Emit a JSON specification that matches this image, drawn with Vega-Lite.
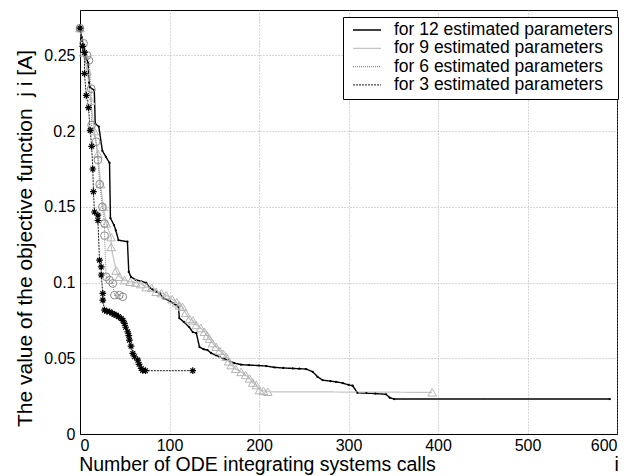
{
  "$schema": "https://vega.github.io/schema/vega-lite/v6.json",
  "width": 537,
  "height": 424,
  "autosize": {"type": "none"},
  "padding": {"left": 80, "top": 10, "right": 14, "bottom": 42},
  "background": "white",
  "config": {
    "view": {"stroke": "black", "strokeWidth": 1},
    "font": "Liberation Sans",
    "axis": {
      "labelFont": "Liberation Sans",
      "titleFont": "Liberation Sans",
      "labelFontSize": 16,
      "titleFontSize": 20,
      "labelColor": "black",
      "titleColor": "black",
      "titleFontWeight": "normal",
      "domainColor": "black",
      "ticks": false,
      "labelPadding": 5,
      "gridColor": "#9a9a9a",
      "gridDash": [1, 2],
      "gridWidth": 0.8
    },
    "legend": {
      "orient": "none",
      "legendX": 263,
      "legendY": 7,
      "fillColor": "white",
      "strokeColor": "black",
      "padding": 5,
      "symbolOffset": 4,
      "labelFont": "Liberation Sans",
      "labelFontSize": 17.5,
      "labelColor": "black",
      "labelLimit": 0,
      "labelOffset": 12,
      "symbolType": "stroke",
      "symbolSize": 784,
      "symbolStrokeWidth": 1.3,
      "clipHeight": 16,
      "rowPadding": 0.3,
      "cornerRadius": 0
    }
  },
  "data": {
    "values": [
      {"s": "for 12 estimated parameters", "i": 1, "x": 0, "y": 0.268},
      {"s": "for 12 estimated parameters", "i": 2, "x": 2, "y": 0.262},
      {"s": "for 12 estimated parameters", "i": 3, "x": 4, "y": 0.255},
      {"s": "for 12 estimated parameters", "i": 4, "x": 6, "y": 0.25},
      {"s": "for 12 estimated parameters", "i": 5, "x": 9, "y": 0.245},
      {"s": "for 12 estimated parameters", "i": 6, "x": 10, "y": 0.232},
      {"s": "for 12 estimated parameters", "i": 7, "x": 11, "y": 0.229},
      {"s": "for 12 estimated parameters", "i": 8, "x": 16, "y": 0.227},
      {"s": "for 12 estimated parameters", "i": 9, "x": 17, "y": 0.205},
      {"s": "for 12 estimated parameters", "i": 10, "x": 21, "y": 0.203},
      {"s": "for 12 estimated parameters", "i": 11, "x": 25, "y": 0.187},
      {"s": "for 12 estimated parameters", "i": 12, "x": 29, "y": 0.183},
      {"s": "for 12 estimated parameters", "i": 13, "x": 33, "y": 0.179},
      {"s": "for 12 estimated parameters", "i": 14, "x": 34, "y": 0.1425},
      {"s": "for 12 estimated parameters", "i": 15, "x": 38, "y": 0.138},
      {"s": "for 12 estimated parameters", "i": 16, "x": 40, "y": 0.1345},
      {"s": "for 12 estimated parameters", "i": 17, "x": 43, "y": 0.128},
      {"s": "for 12 estimated parameters", "i": 18, "x": 53, "y": 0.127},
      {"s": "for 12 estimated parameters", "i": 19, "x": 54.5, "y": 0.107},
      {"s": "for 12 estimated parameters", "i": 20, "x": 57, "y": 0.1037},
      {"s": "for 12 estimated parameters", "i": 21, "x": 63, "y": 0.1016},
      {"s": "for 12 estimated parameters", "i": 22, "x": 68, "y": 0.101},
      {"s": "for 12 estimated parameters", "i": 23, "x": 74, "y": 0.0998},
      {"s": "for 12 estimated parameters", "i": 24, "x": 78, "y": 0.0965},
      {"s": "for 12 estimated parameters", "i": 25, "x": 81, "y": 0.0955},
      {"s": "for 12 estimated parameters", "i": 26, "x": 85, "y": 0.094},
      {"s": "for 12 estimated parameters", "i": 27, "x": 89, "y": 0.093},
      {"s": "for 12 estimated parameters", "i": 28, "x": 93, "y": 0.0897},
      {"s": "for 12 estimated parameters", "i": 29, "x": 100, "y": 0.088},
      {"s": "for 12 estimated parameters", "i": 30, "x": 104, "y": 0.0864},
      {"s": "for 12 estimated parameters", "i": 31, "x": 107.5, "y": 0.085},
      {"s": "for 12 estimated parameters", "i": 32, "x": 110, "y": 0.084},
      {"s": "for 12 estimated parameters", "i": 33, "x": 111, "y": 0.0765},
      {"s": "for 12 estimated parameters", "i": 34, "x": 116, "y": 0.074},
      {"s": "for 12 estimated parameters", "i": 35, "x": 122, "y": 0.0706},
      {"s": "for 12 estimated parameters", "i": 36, "x": 126, "y": 0.0673},
      {"s": "for 12 estimated parameters", "i": 37, "x": 130, "y": 0.0666},
      {"s": "for 12 estimated parameters", "i": 38, "x": 133.5, "y": 0.0574},
      {"s": "for 12 estimated parameters", "i": 39, "x": 138, "y": 0.056},
      {"s": "for 12 estimated parameters", "i": 40, "x": 142.5, "y": 0.0554},
      {"s": "for 12 estimated parameters", "i": 41, "x": 146.6, "y": 0.0534},
      {"s": "for 12 estimated parameters", "i": 42, "x": 152, "y": 0.052},
      {"s": "for 12 estimated parameters", "i": 43, "x": 156, "y": 0.0508},
      {"s": "for 12 estimated parameters", "i": 44, "x": 160, "y": 0.05},
      {"s": "for 12 estimated parameters", "i": 45, "x": 165, "y": 0.0488},
      {"s": "for 12 estimated parameters", "i": 46, "x": 172.6, "y": 0.0468},
      {"s": "for 12 estimated parameters", "i": 47, "x": 180, "y": 0.0458},
      {"s": "for 12 estimated parameters", "i": 48, "x": 189, "y": 0.0455},
      {"s": "for 12 estimated parameters", "i": 49, "x": 200, "y": 0.0452},
      {"s": "for 12 estimated parameters", "i": 50, "x": 208, "y": 0.0449},
      {"s": "for 12 estimated parameters", "i": 51, "x": 217, "y": 0.044},
      {"s": "for 12 estimated parameters", "i": 52, "x": 227, "y": 0.0436},
      {"s": "for 12 estimated parameters", "i": 53, "x": 237.5, "y": 0.0433},
      {"s": "for 12 estimated parameters", "i": 54, "x": 245, "y": 0.0431},
      {"s": "for 12 estimated parameters", "i": 55, "x": 252.7, "y": 0.0429},
      {"s": "for 12 estimated parameters", "i": 56, "x": 260, "y": 0.0411},
      {"s": "for 12 estimated parameters", "i": 57, "x": 265.4, "y": 0.0378},
      {"s": "for 12 estimated parameters", "i": 58, "x": 271, "y": 0.0356},
      {"s": "for 12 estimated parameters", "i": 59, "x": 280, "y": 0.0349},
      {"s": "for 12 estimated parameters", "i": 60, "x": 286, "y": 0.0345},
      {"s": "for 12 estimated parameters", "i": 61, "x": 293.6, "y": 0.0336},
      {"s": "for 12 estimated parameters", "i": 62, "x": 300, "y": 0.0325},
      {"s": "for 12 estimated parameters", "i": 63, "x": 304.6, "y": 0.0319},
      {"s": "for 12 estimated parameters", "i": 64, "x": 310, "y": 0.0272},
      {"s": "for 12 estimated parameters", "i": 65, "x": 320, "y": 0.027},
      {"s": "for 12 estimated parameters", "i": 66, "x": 330, "y": 0.0267},
      {"s": "for 12 estimated parameters", "i": 67, "x": 342, "y": 0.0262},
      {"s": "for 12 estimated parameters", "i": 68, "x": 346, "y": 0.024},
      {"s": "for 12 estimated parameters", "i": 69, "x": 351, "y": 0.0231},
      {"s": "for 12 estimated parameters", "i": 70, "x": 592, "y": 0.0231},

      {"s": "for 9 estimated parameters", "i": 1, "x": 0, "y": 0.268},
      {"s": "for 9 estimated parameters", "i": 2, "x": 4, "y": 0.252},
      {"s": "for 9 estimated parameters", "i": 3, "x": 8, "y": 0.24},
      {"s": "for 9 estimated parameters", "i": 4, "x": 12, "y": 0.22},
      {"s": "for 9 estimated parameters", "i": 5, "x": 16, "y": 0.2},
      {"s": "for 9 estimated parameters", "i": 6, "x": 20, "y": 0.185},
      {"s": "for 9 estimated parameters", "i": 7, "x": 23, "y": 0.165},
      {"s": "for 9 estimated parameters", "i": 8, "x": 26, "y": 0.15},
      {"s": "for 9 estimated parameters", "i": 9, "x": 29.3, "y": 0.139},
      {"s": "for 9 estimated parameters", "i": 10, "x": 34.8, "y": 0.13},
      {"s": "for 9 estimated parameters", "i": 11, "x": 34.8, "y": 0.1235},
      {"s": "for 9 estimated parameters", "i": 12, "x": 40.4, "y": 0.108},
      {"s": "for 9 estimated parameters", "i": 13, "x": 44, "y": 0.1038},
      {"s": "for 9 estimated parameters", "i": 14, "x": 49.7, "y": 0.1016},
      {"s": "for 9 estimated parameters", "i": 15, "x": 56, "y": 0.1005},
      {"s": "for 9 estimated parameters", "i": 16, "x": 62, "y": 0.1},
      {"s": "for 9 estimated parameters", "i": 17, "x": 68, "y": 0.099},
      {"s": "for 9 estimated parameters", "i": 18, "x": 74, "y": 0.097},
      {"s": "for 9 estimated parameters", "i": 19, "x": 80, "y": 0.0965},
      {"s": "for 9 estimated parameters", "i": 20, "x": 85, "y": 0.0939},
      {"s": "for 9 estimated parameters", "i": 21, "x": 91, "y": 0.093},
      {"s": "for 9 estimated parameters", "i": 22, "x": 96.3, "y": 0.0917},
      {"s": "for 9 estimated parameters", "i": 23, "x": 103, "y": 0.089},
      {"s": "for 9 estimated parameters", "i": 24, "x": 108, "y": 0.087},
      {"s": "for 9 estimated parameters", "i": 25, "x": 111, "y": 0.085},
      {"s": "for 9 estimated parameters", "i": 26, "x": 114.5, "y": 0.084},
      {"s": "for 9 estimated parameters", "i": 27, "x": 118, "y": 0.08},
      {"s": "for 9 estimated parameters", "i": 28, "x": 122.3, "y": 0.076},
      {"s": "for 9 estimated parameters", "i": 29, "x": 126, "y": 0.075},
      {"s": "for 9 estimated parameters", "i": 30, "x": 130, "y": 0.072},
      {"s": "for 9 estimated parameters", "i": 31, "x": 135, "y": 0.07},
      {"s": "for 9 estimated parameters", "i": 32, "x": 139, "y": 0.0675},
      {"s": "for 9 estimated parameters", "i": 33, "x": 142, "y": 0.065},
      {"s": "for 9 estimated parameters", "i": 34, "x": 144.7, "y": 0.063},
      {"s": "for 9 estimated parameters", "i": 35, "x": 148, "y": 0.06},
      {"s": "for 9 estimated parameters", "i": 36, "x": 152, "y": 0.0576},
      {"s": "for 9 estimated parameters", "i": 37, "x": 156, "y": 0.055},
      {"s": "for 9 estimated parameters", "i": 38, "x": 160, "y": 0.053},
      {"s": "for 9 estimated parameters", "i": 39, "x": 163.3, "y": 0.051},
      {"s": "for 9 estimated parameters", "i": 40, "x": 166, "y": 0.048},
      {"s": "for 9 estimated parameters", "i": 41, "x": 169, "y": 0.0455},
      {"s": "for 9 estimated parameters", "i": 42, "x": 174, "y": 0.043},
      {"s": "for 9 estimated parameters", "i": 43, "x": 180, "y": 0.041},
      {"s": "for 9 estimated parameters", "i": 44, "x": 185, "y": 0.039},
      {"s": "for 9 estimated parameters", "i": 45, "x": 189.4, "y": 0.0367},
      {"s": "for 9 estimated parameters", "i": 46, "x": 193, "y": 0.034},
      {"s": "for 9 estimated parameters", "i": 47, "x": 197, "y": 0.0323},
      {"s": "for 9 estimated parameters", "i": 48, "x": 200.6, "y": 0.029},
      {"s": "for 9 estimated parameters", "i": 49, "x": 205, "y": 0.0285},
      {"s": "for 9 estimated parameters", "i": 50, "x": 209.8, "y": 0.0279},
      {"s": "for 9 estimated parameters", "i": 51, "x": 393.5, "y": 0.0275},

      {"s": "for 6 estimated parameters", "i": 1, "x": 0, "y": 0.268},
      {"s": "for 6 estimated parameters", "i": 2, "x": 4, "y": 0.258},
      {"s": "for 6 estimated parameters", "i": 3, "x": 8, "y": 0.25},
      {"s": "for 6 estimated parameters", "i": 4, "x": 10, "y": 0.2467},
      {"s": "for 6 estimated parameters", "i": 5, "x": 12.5, "y": 0.228},
      {"s": "for 6 estimated parameters", "i": 6, "x": 13, "y": 0.204},
      {"s": "for 6 estimated parameters", "i": 7, "x": 18, "y": 0.193},
      {"s": "for 6 estimated parameters", "i": 8, "x": 20, "y": 0.181},
      {"s": "for 6 estimated parameters", "i": 9, "x": 22, "y": 0.165},
      {"s": "for 6 estimated parameters", "i": 10, "x": 25, "y": 0.15},
      {"s": "for 6 estimated parameters", "i": 11, "x": 27.4, "y": 0.139},
      {"s": "for 6 estimated parameters", "i": 12, "x": 27.4, "y": 0.131},
      {"s": "for 6 estimated parameters", "i": 13, "x": 29.3, "y": 0.1038},
      {"s": "for 6 estimated parameters", "i": 14, "x": 33, "y": 0.1016},
      {"s": "for 6 estimated parameters", "i": 15, "x": 36.6, "y": 0.0994},
      {"s": "for 6 estimated parameters", "i": 16, "x": 38.5, "y": 0.0917},
      {"s": "for 6 estimated parameters", "i": 17, "x": 44, "y": 0.0917},
      {"s": "for 6 estimated parameters", "i": 18, "x": 47.8, "y": 0.0906},

      {"s": "for 3 estimated parameters", "i": 1, "x": 0, "y": 0.268},
      {"s": "for 3 estimated parameters", "i": 2, "x": 3, "y": 0.256},
      {"s": "for 3 estimated parameters", "i": 3, "x": 5, "y": 0.252},
      {"s": "for 3 estimated parameters", "i": 4, "x": 5, "y": 0.238},
      {"s": "for 3 estimated parameters", "i": 5, "x": 7, "y": 0.2236},
      {"s": "for 3 estimated parameters", "i": 6, "x": 9.5, "y": 0.2155},
      {"s": "for 3 estimated parameters", "i": 7, "x": 11.4, "y": 0.2005},
      {"s": "for 3 estimated parameters", "i": 8, "x": 13, "y": 0.19},
      {"s": "for 3 estimated parameters", "i": 9, "x": 14.3, "y": 0.175},
      {"s": "for 3 estimated parameters", "i": 10, "x": 15, "y": 0.16},
      {"s": "for 3 estimated parameters", "i": 11, "x": 16.2, "y": 0.1466},
      {"s": "for 3 estimated parameters", "i": 12, "x": 20, "y": 0.1445},
      {"s": "for 3 estimated parameters", "i": 13, "x": 20, "y": 0.141},
      {"s": "for 3 estimated parameters", "i": 14, "x": 21.8, "y": 0.1148},
      {"s": "for 3 estimated parameters", "i": 15, "x": 23.7, "y": 0.1103},
      {"s": "for 3 estimated parameters", "i": 16, "x": 23.7, "y": 0.105},
      {"s": "for 3 estimated parameters", "i": 17, "x": 25.5, "y": 0.0928},
      {"s": "for 3 estimated parameters", "i": 18, "x": 25.5, "y": 0.0884},
      {"s": "for 3 estimated parameters", "i": 19, "x": 27.4, "y": 0.0818},
      {"s": "for 3 estimated parameters", "i": 20, "x": 30, "y": 0.081},
      {"s": "for 3 estimated parameters", "i": 21, "x": 33, "y": 0.0807},
      {"s": "for 3 estimated parameters", "i": 22, "x": 36, "y": 0.0798},
      {"s": "for 3 estimated parameters", "i": 23, "x": 38, "y": 0.079},
      {"s": "for 3 estimated parameters", "i": 24, "x": 40.4, "y": 0.0785},
      {"s": "for 3 estimated parameters", "i": 25, "x": 43, "y": 0.0775},
      {"s": "for 3 estimated parameters", "i": 26, "x": 46, "y": 0.0763},
      {"s": "for 3 estimated parameters", "i": 27, "x": 48, "y": 0.075},
      {"s": "for 3 estimated parameters", "i": 28, "x": 49.7, "y": 0.073},
      {"s": "for 3 estimated parameters", "i": 29, "x": 51, "y": 0.0705},
      {"s": "for 3 estimated parameters", "i": 30, "x": 53.4, "y": 0.0675},
      {"s": "for 3 estimated parameters", "i": 31, "x": 54.5, "y": 0.065},
      {"s": "for 3 estimated parameters", "i": 32, "x": 55.3, "y": 0.062},
      {"s": "for 3 estimated parameters", "i": 33, "x": 57, "y": 0.058},
      {"s": "for 3 estimated parameters", "i": 34, "x": 59, "y": 0.0532},
      {"s": "for 3 estimated parameters", "i": 35, "x": 61, "y": 0.051},
      {"s": "for 3 estimated parameters", "i": 36, "x": 64.6, "y": 0.0488},
      {"s": "for 3 estimated parameters", "i": 37, "x": 66, "y": 0.046},
      {"s": "for 3 estimated parameters", "i": 38, "x": 68.4, "y": 0.0433},
      {"s": "for 3 estimated parameters", "i": 39, "x": 70, "y": 0.042},
      {"s": "for 3 estimated parameters", "i": 40, "x": 73.2, "y": 0.0418},
      {"s": "for 3 estimated parameters", "i": 41, "x": 126, "y": 0.0418}
    ]
  },
  "encoding": {
    "x": {
      "field": "x", "type": "quantitative",
      "scale": {"domain": [0, 600], "nice": false},
      "axis": {"values": [0, 100, 200, 300, 400, 500, 600], "labelPadding": 3, "labelBaseline": "top", "titlePadding": 2, "titleFontSize": 19.5,
        "title": "Number of ODE integrating systems calls\u00a0\u00a0\u00a0\u00a0\u00a0\u00a0\u00a0\u00a0\u00a0\u00a0\u00a0\u00a0\u00a0\u00a0\u00a0\u00a0\u00a0\u00a0\u00a0\u00a0\u00a0\u00a0\u00a0\u00a0\u00a0\u00a0\u00a0\u00a0\u00a0\u00a0\u00a0\u00a0\u00a0i"}
    },
    "y": {
      "field": "y", "type": "quantitative",
      "scale": {"domain": [0, 0.28], "nice": false},
      "axis": {"values": [0, 0.05, 0.1, 0.15, 0.2, 0.25], "format": "~g", "titleFontSize": 21, "titlePadding": 8, "titleY": 228,
        "title": "The value of the objective function\u00a0\u00a0j\u00a0i\u00a0[A]"}
    }
  },
  "layer": [
    {
      "mark": {"type": "line", "clip": true},
      "encoding": {
        "order": {"field": "i", "type": "quantitative"},
        "color": {
          "field": "s", "type": "nominal",
          "scale": {
            "domain": ["for 12 estimated parameters", "for 9 estimated parameters", "for 6 estimated parameters", "for 3 estimated parameters"],
            "range": ["#000000", "#c4c4c4", "#8a8a8a", "#000000"]
          },
          "legend": {"title": null}
        },
        "strokeDash": {
          "field": "s", "type": "nominal",
          "scale": {
            "domain": ["for 12 estimated parameters", "for 9 estimated parameters", "for 6 estimated parameters", "for 3 estimated parameters"],
            "range": [[1, 0], [1, 0], [1, 1], [2, 1]]
          },
          "legend": {"title": null}
        },
        "strokeWidth": {
          "field": "s", "type": "nominal",
          "scale": {
            "domain": ["for 12 estimated parameters", "for 9 estimated parameters", "for 6 estimated parameters", "for 3 estimated parameters"],
            "range": [1.4, 0.9, 1, 1.4]
          },
          "legend": null
        }
      }
    },
    {
      "transform": [{"filter": "datum.s === 'for 12 estimated parameters'"}],
      "mark": {"type": "point", "shape": "circle", "filled": true, "color": "black", "size": 5, "opacity": 1}
    },
    {
      "transform": [{"filter": "datum.s === 'for 9 estimated parameters'"}],
      "mark": {"type": "point", "shape": "triangle-up", "filled": false, "stroke": "#b5b5b5", "strokeWidth": 1, "size": 75, "opacity": 1}
    },
    {
      "transform": [{"filter": "datum.s === 'for 6 estimated parameters'"}],
      "mark": {"type": "point", "shape": "circle", "filled": false, "stroke": "#8a8a8a", "strokeWidth": 1, "size": 60, "opacity": 1}
    },
    {
      "transform": [{"filter": "datum.s === 'for 3 estimated parameters'"}],
      "mark": {"type": "point", "shape": "M-1,0L1,0M0,-1L0,1M-0.7,-0.7L0.7,0.7M-0.7,0.7L0.7,-0.7", "filled": false, "stroke": "black", "strokeWidth": 1.2, "size": 45, "opacity": 1}
    }
  ]
}
